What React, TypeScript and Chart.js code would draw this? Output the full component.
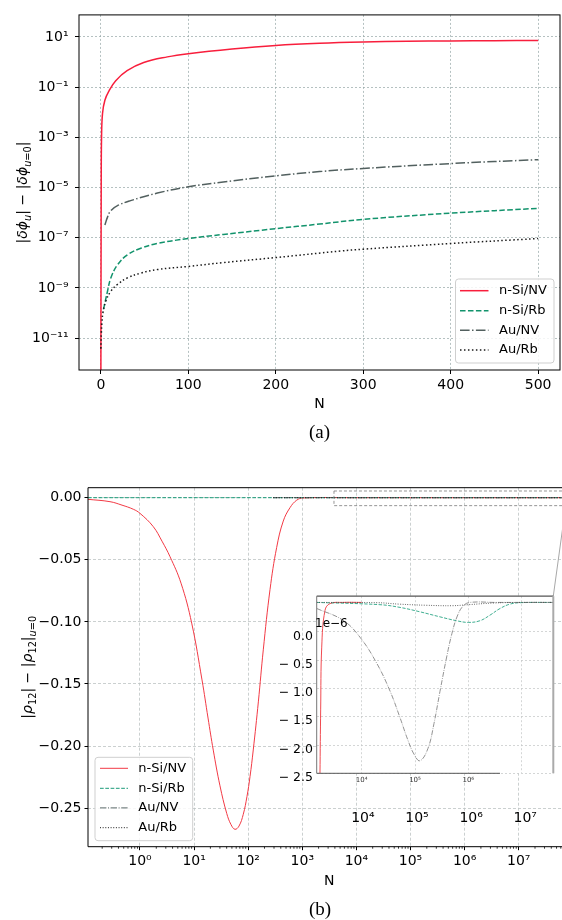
import React, { useEffect, useRef } from 'react';
import { Chart, registerables } from 'chart.js';
Chart.register(...registerables);

const FONT = '"DejaVu Sans", sans-serif';
const SERIES = ['n-Si/NV', 'n-Si/Rb', 'Au/NV', 'Au/Rb'];

// ---------------- (a) data ----------------
const nA_siNV = [0, 0.4, 0.8, 1.9, 4.6, 9.5, 17, 30, 49, 76, 100, 150, 200, 250, 300, 350, 400, 450, 500];
const vA_siNV = [1e-13, 1e-5, 1.1e-3, 9e-3, 0.03, 0.072, 0.18, 0.45, 0.95, 1.6, 2.15, 3.29, 4.55, 5.56, 6.25, 6.65, 6.9, 7.1, 7.23];
const nA_siRb = [3, 7.6, 11.4, 19, 30.4, 45.6, 64.6, 100, 140, 200, 250, 300, 400, 500];
const vA_siRb = [1.4e-10, 7.4e-10, 2.5e-9, 8.3e-9, 2.1e-8, 3.8e-8, 5.9e-8, 9.3e-8, 1.35e-7, 2.3e-7, 3.5e-7, 5.4e-7, 9.5e-7, 1.48e-6];
const nA_auNV = [4.6, 7.6, 11.4, 19, 34, 64.6, 100, 140, 200, 250, 300, 400, 500];
const vA_auNV = [3.2e-7, 6.6e-7, 1.2e-6, 1.9e-6, 3.0e-6, 6.0e-6, 1.07e-5, 1.66e-5, 2.9e-5, 4.3e-5, 5.75e-5, 9.0e-5, 1.29e-4];
const nA_auRb = [0, 0.6, 1.2, 2.5, 5.7, 11.4, 19, 30.4, 45.6, 64.6, 100, 140, 200, 274, 300, 400, 500];
const vA_auRb = [3.8e-12, 1.6e-11, 4e-11, 1.1e-10, 3e-10, 7.4e-10, 1.38e-9, 2.5e-9, 3.9e-9, 5.4e-9, 7.2e-9, 1.02e-8, 1.62e-8, 2.95e-8, 3.5e-8, 5.9e-8, 9.3e-8];
const xTicksA = [0, 100, 200, 300, 400, 500];
const yTicksA = [1e1, 1e-1, 1e-3, 1e-5, 1e-7, 1e-9, 1e-11];
const yTickLabelsA = ['10¹', '10⁻¹', '10⁻³', '10⁻⁵', '10⁻⁷', '10⁻⁹', '10⁻¹¹'];

// ---------------- (b) data ----------------
const nB_siNV = [0.109, 0.279, 0.465, 0.752, 1, 1.76, 2.55, 3.59, 5.73, 9.03, 14.0, 18.1, 22.6, 30.1, 40.1, 48.1, 57, 67.6, 81.1, 95, 108, 124, 154, 190, 253, 336, 445, 593, 788, 1045, 1e4, 1e6, 6.3e7];
const vB_siNV = [-0.0013, -0.0032, -0.006, -0.0093, -0.0126, -0.0233, -0.035, -0.0475, -0.0688, -0.101, -0.1467, -0.1774, -0.2032, -0.232, -0.2542, -0.2632, -0.267, -0.2644, -0.2549, -0.2405, -0.2246, -0.2031, -0.1644, -0.1225, -0.074, -0.04, -0.0188, -0.008, -0.002, -0.0002, 0, 0, 0];
const nB_siRb = [0.109, 6.3e7];
const vB_siRb = [0, 0];
const nB_auNV = [290, 6.3e7];
const vB_auNV = [0, 0];
const nB_auRb = [290, 6.3e7];
const vB_auRb = [0, 0];
const xTicksB = [1, 10, 100, 1e3, 1e4, 1e5, 1e6, 1e7];
const xTickLabelsB = ['10⁰', '10¹', '10²', '10³', '10⁴', '10⁵', '10⁶', '10⁷'];
const yTicksB = [0, -0.05, -0.1, -0.15, -0.2, -0.25];
const yTickLabelsB = ['0.00', '−0.05', '−0.10', '−0.15', '−0.20', '−0.25'];
const ghostTicksB = [1e4, 1e5, 1e6, 1e7];
const ghostLabelsB = ['10⁴', '10⁵', '10⁶', '10⁷'];
const zoomBoxN = [3850, 7.4e7];
const zoomBoxV = [0.0054, -0.0064];

// ---------------- inset data (units of 1e-6) ----------------
const nI_siNV = [1445, 1600, 1650, 1700, 1780, 2050, 2550, 4470, 10000];
const vI_siNV = [-5, -3.5, -2.5, -1.38, -0.27, 0.38, 0.5, 0.52, 0.52];
const nI_siRb = [1430, 22000, 52200, 124000, 294000, 604000, 998000, 1650000, 2550000, 3920000, 6040000, 9290000, 4e7];
const vI_siRb = [0.52, 0.48, 0.432, 0.354, 0.265, 0.196, 0.167, 0.196, 0.295, 0.412, 0.49, 0.515, 0.52];
const nI_auNV = [1432, 4460, 9290, 19100, 34000, 52200, 73800, 95700, 124000, 175000, 227000, 294000, 398000, 493000, 612000, 793000, 1074000, 3160000, 1e7, 4e7];
const vI_auNV = [0.413, 0.205, -0.095, -0.553, -1.046, -1.514, -1.917, -2.161, -2.279, -2.06, -1.62, -1.053, -0.417, -0.028, 0.263, 0.454, 0.52, 0.52, 0.52, 0.52];
const nI_auRb = [1430, 20000, 50000, 160000, 500000, 1000000, 3000000, 1e7, 4e7];
const vI_auRb = [0.52, 0.515, 0.49, 0.47, 0.462, 0.48, 0.51, 0.52, 0.52];
const xTicksI = [1e4, 1e5, 1e6, 1e7];
const xTickLabelsI = ['10⁴', '10⁵', '10⁶', ''];
const yTicksI = [0, -0.5, -1, -1.5, -2, -2.5];
const yTickLabelsI = ['0.0', '− 0.5', '− 1.0', '− 1.5', '− 2.0', '− 2.5'];

// ---------------- styles / layout ----------------
const COLORS_A = ['#f81e3c', '#12936c', '#52605f', '#1a1a1a'];
const COLORS_B = ['#f23a45', '#1a9a78', '#5a6868', '#1a1a1a'];
const COLORS_I = ['#f04a50', '#2aa585', '#777777', '#444444'];
const W = 562;
const A_H = 450;
const B_TOP = 450;
const B_H = 470;
const INS = { left: 280, top: 585, w: 282, h: 210, aL: 36.7, aT: 11, aR: 273.3, aB: 188.3 };

function dashFor(i: number, lw: number): number[] {
  if (i === 1) return [3.7 * lw, 1.6 * lw];
  if (i === 2) return [6.4 * lw, 1.6 * lw, 1 * lw, 1.6 * lw];
  if (i === 3) return [1 * lw, 1.65 * lw];
  return [];
}

function pts(n: number[], v: number[]) {
  return n.map((x, i) => ({ x, y: v[i] }));
}

function ds(i: number, n: number[], v: number[], lw: number, colors: string[]) {
  return {
    label: SERIES[i],
    data: pts(n, v),
    borderColor: colors[i],
    backgroundColor: colors[i],
    borderWidth: lw,
    borderDash: dashFor(i, lw),
    pointRadius: 0,
    fill: false,
    tension: 0.4,
    order: 3 - i,
  };
}

type Seg = { t: string; it?: boolean; sub?: boolean };
function segFont(s: Seg, size: number) {
  return `${s.it ? 'italic ' : ''}${s.sub ? size * 0.7 : size}px ${FONT}`;
}
function drawRich(ctx: CanvasRenderingContext2D, segs: Seg[], cx: number, cy: number, size: number, vertical: boolean) {
  ctx.save();
  ctx.translate(cx, cy);
  if (vertical) ctx.rotate(-Math.PI / 2);
  let w = 0;
  for (const s of segs) {
    ctx.font = segFont(s, size);
    w += ctx.measureText(s.t).width;
  }
  let x = -w / 2;
  ctx.textAlign = 'left';
  ctx.textBaseline = 'alphabetic';
  ctx.fillStyle = '#000';
  const base = size * 0.36;
  for (const s of segs) {
    ctx.font = segFont(s, size);
    ctx.fillText(s.t, x, base + (s.sub ? size * 0.28 : 0));
    x += ctx.measureText(s.t).width;
  }
  ctx.restore();
}

function drawText(ctx: CanvasRenderingContext2D, t: string, x: number, y: number, font: string, align: CanvasTextAlign = 'center') {
  ctx.save();
  ctx.font = font;
  ctx.fillStyle = '#000';
  ctx.textAlign = align;
  ctx.textBaseline = 'middle';
  ctx.fillText(t, x, y);
  ctx.restore();
}

function drawLegend(ctx: CanvasRenderingContext2D, L: any, colors: string[]) {
  ctx.save();
  const r = 3;
  const { x, y, w, h } = L;
  ctx.beginPath();
  ctx.moveTo(x + r, y);
  ctx.lineTo(x + w - r, y);
  ctx.quadraticCurveTo(x + w, y, x + w, y + r);
  ctx.lineTo(x + w, y + h - r);
  ctx.quadraticCurveTo(x + w, y + h, x + w - r, y + h);
  ctx.lineTo(x + r, y + h);
  ctx.quadraticCurveTo(x, y + h, x, y + h - r);
  ctx.lineTo(x, y + r);
  ctx.quadraticCurveTo(x, y, x + r, y);
  ctx.closePath();
  ctx.fillStyle = 'rgba(255,255,255,0.85)';
  ctx.fill();
  ctx.strokeStyle = '#cfcfcf';
  ctx.lineWidth = 1;
  ctx.stroke();
  for (let i = 0; i < 4; i++) {
    const ry = L.rows[i];
    ctx.beginPath();
    ctx.setLineDash(dashFor(i, L.lw));
    ctx.strokeStyle = colors[i];
    ctx.lineWidth = L.lw;
    ctx.moveTo(L.sx0, ry);
    ctx.lineTo(L.sx1, ry);
    ctx.stroke();
    ctx.setLineDash([]);
    drawText(ctx, SERIES[i], L.tx, ry, `${L.fs}px ${FONT}`, 'left');
  }
  ctx.restore();
}

function line(ctx: CanvasRenderingContext2D, x1: number, y1: number, x2: number, y2: number, color: string, lw: number, dash: number[] = []) {
  ctx.save();
  ctx.beginPath();
  ctx.setLineDash(dash);
  ctx.strokeStyle = color;
  ctx.lineWidth = lw;
  ctx.moveTo(x1, y1);
  ctx.lineTo(x2, y2);
  ctx.stroke();
  ctx.restore();
}

const titleA: Seg[] = [
  { t: '|' }, { t: 'δϕ', it: true }, { t: 'u', it: true, sub: true }, { t: '| − |' },
  { t: 'δϕ', it: true }, { t: 'u', it: true, sub: true }, { t: '=0', sub: true }, { t: '|' },
];
const titleB: Seg[] = [
  { t: '|' }, { t: 'ρ', it: true }, { t: '12', sub: true }, { t: '| − |' },
  { t: 'ρ', it: true }, { t: '12', sub: true }, { t: '|' }, { t: 'u', it: true, sub: true }, { t: '=0', sub: true },
];

function makeA(canvas: HTMLCanvasElement) {
  const grid = { color: 'rgba(150,166,166,0.7)', lineWidth: 1, drawTicks: true, tickLength: 4, tickColor: '#000', tickWidth: 1, tickBorderDash: [] };
  const plug = {
    id: 'decoA',
    afterDatasetsDraw(chart: any) {
      const ctx = chart.ctx;
      const a = chart.chartArea;
      ctx.save();
      ctx.strokeStyle = '#000';
      ctx.lineWidth = 1;
      ctx.strokeRect(a.left, a.top, a.right - a.left, a.bottom - a.top);
      ctx.restore();
      drawLegend(ctx, { x: 455.5, y: 279, w: 98.5, h: 84, rows: [290.7, 310.7, 330.3, 350], sx0: 460, sx1: 488.5, tx: 499, lw: 1.5, fs: 13 }, COLORS_A);
      drawRich(ctx, titleA, 22, (a.top + a.bottom) / 2, 14, true);
      drawText(ctx, 'N', (a.left + a.right) / 2, 404, `14px ${FONT}`);
      drawText(ctx, '(a)', (a.left + a.right) / 2, 433, '19px "Liberation Serif", serif');
    },
  };
  return new Chart(canvas, {
    type: 'line',
    data: {
      datasets: [
        ds(0, nA_siNV, vA_siNV, 1.5, COLORS_A),
        ds(1, nA_siRb, vA_siRb, 1.5, COLORS_A),
        ds(2, nA_auNV, vA_auNV, 1.5, COLORS_A),
        ds(3, nA_auRb, vA_auRb, 1.5, COLORS_A),
      ],
    } as any,
    options: {
      responsive: false,
      animation: false,
      devicePixelRatio: 1,
      events: [],
      layout: { padding: { left: 0, top: 10, right: 2, bottom: 50 } },
      plugins: { legend: { display: false }, tooltip: { enabled: false } },
      scales: {
        x: {
          type: 'linear', min: -25, max: 525, bounds: 'data',
          grid, border: { display: false, dash: [2, 2] },
          ticks: { autoSkip: false, maxRotation: 0, padding: 3, color: '#000', font: { size: 14 }, callback: (v: any) => String(v) },
          afterBuildTicks: (s: any) => { s.ticks = xTicksA.map((v) => ({ value: v })); },
          afterFit: (s: any) => { s.height = 30; },
        },
        y: {
          type: 'logarithmic', min: Math.pow(10, -12.269), max: Math.pow(10, 1.876), bounds: 'data',
          grid, border: { display: false, dash: [2, 2] },
          ticks: { autoSkip: false, padding: 6.5, color: '#000', font: { size: 14 }, callback: (_v: any, i: number) => yTickLabelsA[i] },
          afterBuildTicks: (s: any) => { s.ticks = yTicksA.map((v) => ({ value: v })); },
          afterFit: (s: any) => { s.width = 79; },
        },
      },
    } as any,
    plugins: [plug],
  });
}

function makeB(canvas: HTMLCanvasElement) {
  const grid = { color: 'rgba(190,196,196,0.8)', lineWidth: 1, drawTicks: true, tickLength: 3.5, tickColor: '#000', tickWidth: 1, tickBorderDash: [] };
  const plug = {
    id: 'decoB',
    afterDatasetsDraw(chart: any) {
      const ctx = chart.ctx;
      const a = chart.chartArea;
      const xs = chart.scales.x;
      const ys = chart.scales.y;
      line(ctx, a.left, a.top, a.right, a.top, '#000', 1);
      line(ctx, a.left, a.top, a.left, a.bottom, '#000', 1);
      line(ctx, a.left, a.bottom, a.right, a.bottom, '#000', 1);
      for (let k = -1; k <= 7; k++) {
        for (let m = 2; m <= 9; m++) {
          const v = m * Math.pow(10, k);
          if (v < xs.min || v > xs.max) continue;
          const px = xs.getPixelForValue(v);
          line(ctx, px, a.bottom, px, a.bottom + 2, '#000', 0.8);
        }
      }
      const bx0 = xs.getPixelForValue(zoomBoxN[0]);
      const bx1 = xs.getPixelForValue(zoomBoxN[1]);
      const by0 = ys.getPixelForValue(zoomBoxV[0]);
      const by1 = ys.getPixelForValue(zoomBoxV[1]);
      ctx.save();
      ctx.setLineDash([3, 2]);
      ctx.strokeStyle = '#7a7a7a';
      ctx.lineWidth = 0.8;
      ctx.strokeRect(bx0, by0, bx1 - bx0, by1 - by0);
      ctx.restore();
      line(ctx, bx1, by1, INS.left + INS.aR, INS.top + INS.aT - B_TOP, '#a8a8a8', 1);
      ghostTicksB.forEach((v, i) => {
        drawText(ctx, ghostLabelsB[i], xs.getPixelForValue(v) + 6.5, 818 - B_TOP, `14px ${FONT}`);
      });
      drawLegend(ctx, { x: 95, y: 757.3 - B_TOP, w: 97.7, h: 83.4, rows: [768.3 - B_TOP, 788.3 - B_TOP, 807.9 - B_TOP, 827.7 - B_TOP], sx0: 100, sx1: 128, tx: 138.3, lw: 1, fs: 13 }, COLORS_B);
      drawRich(ctx, titleB, 27, (a.top + a.bottom) / 2, 14, true);
      drawText(ctx, 'N', 329.3, 881.7 - B_TOP, `14px ${FONT}`);
      drawText(ctx, '(b)', 320, 910 - B_TOP, '19px "Liberation Serif", serif');
    },
  };
  return new Chart(canvas, {
    type: 'line',
    data: {
      datasets: [
        ds(0, nB_siNV, vB_siNV, 1, COLORS_B),
        ds(1, nB_siRb, vB_siRb, 1, COLORS_B),
        ds(2, nB_auNV, vB_auNV, 1, COLORS_B),
        ds(3, nB_auRb, vB_auRb, 1, COLORS_B),
      ],
    } as any,
    options: {
      responsive: false,
      animation: false,
      devicePixelRatio: 1,
      events: [],
      layout: { padding: { left: 0, top: 37.7, right: 0, bottom: 43.3 } },
      plugins: { legend: { display: false }, tooltip: { enabled: false } },
      scales: {
        x: {
          type: 'logarithmic', min: Math.pow(10, -0.961), max: Math.pow(10, 7.8), bounds: 'data',
          grid, border: { display: false, dash: [3, 2] },
          ticks: { autoSkip: false, maxRotation: 0, padding: 3, color: '#000', font: { size: 14 }, callback: (_v: any, i: number) => xTickLabelsB[i] },
          afterBuildTicks: (s: any) => { s.ticks = xTicksB.map((v) => ({ value: v })); },
          afterFit: (s: any) => { s.height = 30; },
        },
        y: {
          type: 'linear', min: -0.281, max: 0.00805, bounds: 'data',
          grid, border: { display: false, dash: [3, 2] },
          ticks: { autoSkip: false, padding: 3, color: '#000', font: { size: 14 }, callback: (_v: any, i: number) => yTickLabelsB[i] },
          afterBuildTicks: (s: any) => { s.ticks = yTicksB.map((v) => ({ value: v })); },
          afterFit: (s: any) => { s.width = 88; },
        },
      },
    } as any,
    plugins: [plug],
  });
}

function makeInset(canvas: HTMLCanvasElement) {
  const grid = { color: 'rgba(195,198,198,0.9)', lineWidth: 0.8, drawTicks: false };
  const plug = {
    id: 'decoI',
    beforeDraw(chart: any) {
      const ctx = chart.ctx;
      const a = chart.chartArea;
      ctx.save();
      ctx.fillStyle = '#fff';
      ctx.fillRect(a.left, a.top, a.right - a.left, a.bottom - a.top);
      ctx.restore();
    },
    afterDatasetsDraw(chart: any) {
      const ctx = chart.ctx;
      const a = chart.chartArea;
      line(ctx, a.left, a.top, a.right, a.top, '#555', 1.2);
      line(ctx, a.left, a.top, a.left, a.bottom, '#777', 1);
      line(ctx, a.right, a.top, a.right, a.bottom, '#aaa', 2);
      line(ctx, a.left, a.bottom, 500 - INS.left, a.bottom, '#555', 1);
      drawText(ctx, '1e−6', 35, 39, `12px ${FONT}`, 'left');
    },
  };
  return new Chart(canvas, {
    type: 'line',
    data: {
      datasets: [
        ds(0, nI_siNV, vI_siNV, 1, COLORS_I),
        ds(1, nI_siRb, vI_siRb, 0.9, COLORS_I),
        ds(2, nI_auNV, vI_auNV, 0.8, COLORS_I),
        ds(3, nI_auRb, vI_auRb, 0.9, COLORS_I),
      ],
    } as any,
    options: {
      responsive: false,
      animation: false,
      devicePixelRatio: 1,
      events: [],
      layout: { padding: { left: 0, top: INS.aT, right: INS.w - INS.aR, bottom: INS.h - INS.aB - 12 } },
      plugins: { legend: { display: false }, tooltip: { enabled: false } },
      scales: {
        x: {
          type: 'logarithmic', min: Math.pow(10, 3.156), max: Math.pow(10, 7.594), bounds: 'data',
          grid, border: { display: false, dash: [2, 2] },
          ticks: { autoSkip: false, maxRotation: 0, padding: 2.5, color: '#333', font: { size: 7 }, callback: (_v: any, i: number) => xTickLabelsI[i] },
          afterBuildTicks: (s: any) => { s.ticks = xTicksI.map((v) => ({ value: v })); },
          afterFit: (s: any) => { s.height = 12; },
        },
        y: {
          type: 'linear', min: -2.5, max: 0.63, bounds: 'data',
          grid, border: { display: false, dash: [2, 2] },
          ticks: { autoSkip: false, padding: 3.7, labelOffset: 4.5, color: '#000', font: { size: 12.5 }, callback: (_v: any, i: number) => yTickLabelsI[i] },
          afterBuildTicks: (s: any) => { s.ticks = yTicksI.map((v) => ({ value: v })); },
          afterFit: (s: any) => { s.width = INS.aL; },
        },
      },
    } as any,
    plugins: [plug],
  });
}

export default function App() {
  const refA = useRef<HTMLCanvasElement>(null);
  const refB = useRef<HTMLCanvasElement>(null);
  const refI = useRef<HTMLCanvasElement>(null);
  useEffect(() => {
    Chart.defaults.font.family = FONT;
    const charts = [makeA(refA.current!), makeB(refB.current!), makeInset(refI.current!)];
    return () => charts.forEach((c) => c.destroy());
  }, []);
  return (
    <div style={{ position: 'absolute', left: 0, top: 0, width: W, height: 920, background: '#fff', overflow: 'hidden' }}>
      <canvas ref={refA} width={W} height={A_H} style={{ position: 'absolute', left: 0, top: 0, width: W, height: A_H }} />
      <canvas ref={refB} width={W} height={B_H} style={{ position: 'absolute', left: 0, top: B_TOP, width: W, height: B_H }} />
      <canvas ref={refI} width={INS.w} height={INS.h} style={{ position: 'absolute', left: INS.left, top: INS.top, width: INS.w, height: INS.h }} />
    </div>
  );
}
